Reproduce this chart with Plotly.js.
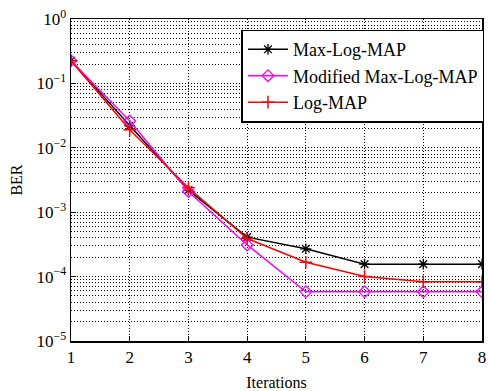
<!DOCTYPE html>
<html>
<head>
<meta charset="utf-8">
<script src="https://cdn.plot.ly/plotly-3.0.1.min.js"></script>
<style>html,body{margin:0;padding:0;background:#fff}#chart{width:488px;height:391px}</style>
</head>
<body>
<div id="chart"></div>
<script>
const iterations = [1, 2, 3, 4, 5, 6, 7, 8];
const maxLogMap = [0.225, 0.022, 0.0022, 4.1e-4, 2.7e-4, 1.56e-4, 1.56e-4, 1.56e-4];
const modifiedMaxLogMap = [0.225, 0.026, 0.0021, 3.1e-4, 5.8e-5, 5.8e-5, 5.8e-5, 5.8e-5];
const logMap = [0.225, 0.019, 0.0024, 3.9e-4, 1.67e-4, 1.0e-4, 8.3e-5, 8.3e-5];
const yTickVals = [1e-5, 1e-4, 1e-3, 1e-2, 1e-1, 1];
const yTickText = ['10<sup>\u22125</sup>', '10<sup>\u22124</sup>', '10<sup>\u22123</sup>', '10<sup>\u22122</sup>', '10<sup>\u22121</sup>', '10<sup>0</sup>'];
const xTickVals = [1, 2, 3, 4, 5, 6, 7, 8];

const font = 'Liberation Serif, Times New Roman, serif';
const dotDash = '1px,2px';

const traces = [
  {x: iterations, y: maxLogMap, name: 'Max-Log-MAP', mode: 'lines+markers',
   line: {color: 'black', width: 1.5},
   marker: {symbol: 'asterisk-open', size: 9, color: 'black', line: {color: 'black', width: 1.3}}},
  {x: iterations, y: modifiedMaxLogMap, name: 'Modified Max-Log-MAP', mode: 'lines+markers',
   line: {color: '#ff00ff', width: 1.5},
   marker: {symbol: 'diamond-open', size: 9, color: '#ff00ff', line: {color: '#ff00ff', width: 1.3}}},
  {x: iterations, y: logMap, name: 'Log-MAP', mode: 'lines+markers',
   line: {color: '#ff0000', width: 1.5},
   marker: {symbol: 'cross-thin-open', size: 9, color: '#ff0000', line: {color: '#ff0000', width: 1.5}}}
];

const layout = {
  width: 488, height: 391,
  margin: {l: 71, r: 4, t: 19, b: 50},
  paper_bgcolor: 'white', plot_bgcolor: 'white',
  font: {family: font, size: 16, color: 'black'},
  showlegend: true,
  legend: {x: 1.006, xanchor: 'right', y: 0.967, yanchor: 'top',
           bgcolor: 'white', bordercolor: 'black', borderwidth: 1.5,
           font: {family: font, size: 18, color: 'black'},
           tracegroupgap: 0, itemwidth: 40},
  xaxis: {
    range: [1, 8], tickvals: xTickVals, ticktext: xTickVals.map(String),
    showgrid: true, gridcolor: 'black', griddash: dotDash, gridwidth: 1,
    showline: true, linecolor: 'black', linewidth: 1.5, mirror: true,
    ticks: 'inside', ticklen: 5, tickcolor: 'black',
    zeroline: false,
    tickfont: {family: font, size: 17},
    title: {text: 'Iterations', font: {family: font, size: 16}, standoff: 18}
  },
  yaxis: {
    type: 'log', range: [-5, 0],
    tickvals: yTickVals, ticktext: yTickText,
    showgrid: true, gridcolor: 'black', griddash: dotDash, gridwidth: 1,
    minor: {showgrid: true, gridcolor: 'black', griddash: dotDash, gridwidth: 1,
            tickvals: [], ticks: ''},
    showline: true, linecolor: 'black', linewidth: 1.5, mirror: true,
    ticks: 'inside', ticklen: 5, tickcolor: 'black',
    zeroline: false,
    tickfont: {family: font, size: 17},
    title: {text: 'BER', font: {family: font, size: 16}, standoff: 10}
  }
};

const minorVals = [];
for (let e = -5; e < 0; e++) for (let m = 2; m <= 9; m++) minorVals.push(m * Math.pow(10, e));
layout.yaxis.minor.tickvals = minorVals;

Plotly.newPlot('chart', traces, layout, {staticPlot: true, displayModeBar: false});
</script>
</body>
</html>
